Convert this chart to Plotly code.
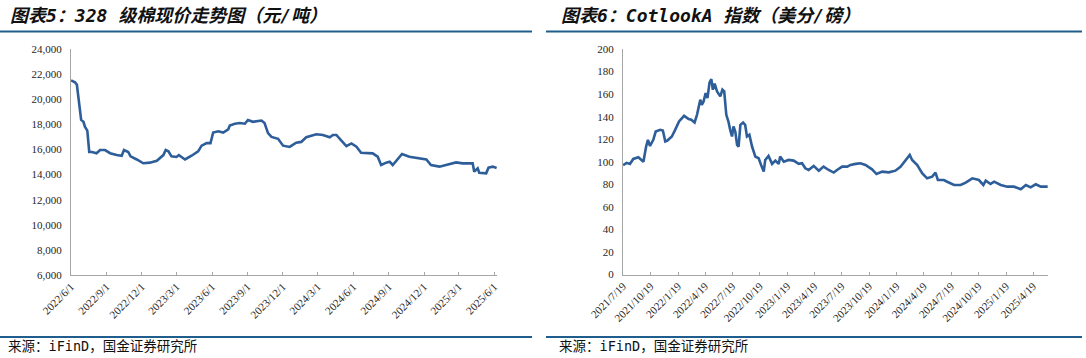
import plotly.graph_objects as go
import pandas as pd

# ---------------- data: 328 cotton spot price (yuan/ton) ----------------
cotton_dates = [
    "2022-06-01", "2022-06-11", "2022-06-16", "2022-06-22", "2022-06-27", "2022-07-03",
    "2022-07-07", "2022-07-13", "2022-07-18", "2022-07-25", "2022-08-06", "2022-08-15",
    "2022-08-28", "2022-09-10", "2022-09-27", "2022-10-10", "2022-10-16", "2022-10-27",
    "2022-11-02", "2022-11-18", "2022-12-05", "2022-12-22", "2023-01-09", "2023-01-26",
    "2023-02-01", "2023-02-08", "2023-02-16", "2023-03-01", "2023-03-07", "2023-03-14",
    "2023-03-23", "2023-04-09", "2023-04-26", "2023-05-05", "2023-05-18", "2023-05-28",
    "2023-06-04", "2023-06-17", "2023-06-30", "2023-07-13", "2023-07-17", "2023-07-30",
    "2023-08-12", "2023-08-25", "2023-09-02", "2023-09-15", "2023-10-07", "2023-10-15",
    "2023-10-24", "2023-11-02", "2023-11-19", "2023-12-02", "2023-12-19", "2024-01-05",
    "2024-01-18", "2024-01-31", "2024-02-26", "2024-03-14", "2024-04-01", "2024-04-09",
    "2024-04-18", "2024-05-01", "2024-05-14", "2024-05-27", "2024-06-09", "2024-06-21",
    "2024-07-21", "2024-08-03", "2024-08-12", "2024-08-25", "2024-09-03", "2024-09-11",
    "2024-09-24", "2024-10-05", "2024-10-24", "2024-11-19", "2024-12-07", "2024-12-19",
    "2025-01-10", "2025-01-27", "2025-02-22", "2025-03-11", "2025-04-06", "2025-04-10",
    "2025-04-19", "2025-04-23", "2025-05-11", "2025-05-17", "2025-05-28", "2025-06-07",
]
cotton_price = [
    21500, 21350, 21150, 19800, 18350, 18200,
    17800, 17500, 15800, 15800, 15700, 15950,
    15950, 15700, 15550, 15500, 15950, 15800,
    15450, 15200, 14900, 14950, 15100, 15550,
    15950, 15850, 15450, 15400, 15550, 15400,
    15200, 15500, 15850, 16300, 16500, 16500,
    17350, 17450, 17350, 17600, 17900, 18050,
    18100, 18050, 18350, 18200, 18300, 18100,
    17300, 17000, 16850, 16300, 16200, 16540,
    16600, 16970, 17210, 17150, 16970, 17150,
    17150, 16700, 16270, 16480, 16220, 15740,
    15690, 15420, 14760, 14950, 15020, 14760,
    15200, 15640, 15420, 15290, 15200, 14760,
    14630, 14760, 14970, 14890, 14890, 14230,
    14500, 14150, 14100, 14550, 14630, 14520,
]
cotton_ticks = ["2022/6/1", "2022/9/1", "2022/12/1", "2023/3/1", "2023/6/1", "2023/9/1",
                "2023/12/1", "2024/3/1", "2024/6/1", "2024/9/1", "2024/12/1", "2025/3/1",
                "2025/6/1"]
cotton_yticks = [6000, 8000, 10000, 12000, 14000, 16000, 18000, 20000, 22000, 24000]

# ---------------- data: Cotlook A index (US cents / lb) ----------------
cotlook_dates = [
    "2021-07-19", "2021-07-31", "2021-08-11", "2021-08-22", "2021-09-08", "2021-09-20",
    "2021-09-25", "2021-10-04", "2021-10-10", "2021-10-17", "2021-10-28", "2021-11-05",
    "2021-11-20", "2021-11-29", "2021-12-07", "2021-12-14", "2021-12-29", "2022-01-09",
    "2022-01-22", "2022-02-08", "2022-02-23", "2022-03-04", "2022-03-15", "2022-03-23",
    "2022-04-03", "2022-04-08", "2022-04-14", "2022-04-21", "2022-04-27", "2022-05-04",
    "2022-05-10", "2022-05-15", "2022-05-21", "2022-05-29", "2022-06-09", "2022-06-16",
    "2022-06-22", "2022-06-29", "2022-07-06", "2022-07-12", "2022-07-18", "2022-07-23",
    "2022-07-29", "2022-08-04", "2022-08-09", "2022-08-15", "2022-08-24", "2022-08-31",
    "2022-09-06", "2022-09-14", "2022-09-23", "2022-10-04", "2022-10-15", "2022-10-23",
    "2022-11-01", "2022-11-06", "2022-11-17", "2022-11-29", "2022-12-10", "2022-12-21",
    "2022-12-26", "2023-01-07", "2023-01-23", "2023-02-09", "2023-02-26", "2023-03-09",
    "2023-03-20", "2023-03-31", "2023-04-17", "2023-05-04", "2023-05-20", "2023-06-06",
    "2023-06-23", "2023-07-04", "2023-07-21", "2023-08-07", "2023-08-18", "2023-09-04",
    "2023-09-20", "2023-10-07", "2023-10-29", "2023-11-13", "2023-12-02", "2023-12-24",
    "2024-01-15", "2024-02-01", "2024-02-18", "2024-03-03", "2024-03-11", "2024-03-28",
    "2024-04-14", "2024-04-30", "2024-05-17", "2024-05-28", "2024-06-05", "2024-06-25",
    "2024-07-06", "2024-07-29", "2024-08-20", "2024-09-06", "2024-09-28", "2024-10-20",
    "2024-11-04", "2024-11-12", "2024-11-28", "2024-12-10", "2025-01-01", "2025-01-23",
    "2025-02-14", "2025-03-09", "2025-03-26", "2025-04-11", "2025-04-28", "2025-05-15",
    "2025-06-07",
]
cotlook_index = [
    97, 99, 98, 102.5, 104, 101.6,
    100, 113.5, 119.4, 114, 119.4, 126.8,
    128.3, 127.7, 118, 118.8, 122.4, 128.3,
    135.7, 140.7, 137.8, 137.2, 134.8, 141.6,
    155, 150.5, 153.5, 161, 156.4, 170.4,
    173.3, 163.9, 169.2, 162.4, 158, 163.9,
    162.4, 141.6, 135.7, 128.3, 122.4, 131.3,
    126.8, 115, 113.5, 132.7, 134.8, 132.7,
    122.4, 123.9, 113.5, 104.6, 103.1, 97.2,
    91.3, 101.6, 105.2, 98.1, 101, 98.1,
    104.6, 100.1, 101.6, 101, 98.1, 98.7,
    94.2, 92.7, 96.3, 92.1, 95.7, 92.7,
    90.4, 92.7, 95.7, 95.7, 97.2, 98.1,
    98.7, 97.1, 93.3, 89.1, 91.2, 90.6,
    92.1, 95.6, 101.6, 106, 101.6, 97.1,
    89.7, 85.3, 86.8, 90.3, 83.8, 83.8,
    82.3, 79.4, 79.4, 81.5, 85.3, 83.8,
    79.4, 83.2, 80.3, 82.3, 79.4, 77.9,
    77.9, 75.6, 79.4, 77.3, 80, 77.9,
    77.9,
]
cotlook_ticks = ["2021/7/19", "2021/10/19", "2022/1/19", "2022/4/19", "2022/7/19",
                 "2022/10/19", "2023/1/19", "2023/4/19", "2023/7/19", "2023/10/19",
                 "2024/1/19", "2024/4/19", "2024/7/19", "2024/10/19", "2025/1/19",
                 "2025/4/19"]
cotlook_yticks = list(range(0, 201, 20))

title_left = "图表5：328 级棉现价走势图（元/吨）"
title_right = "图表6：CotlookA 指数（美分/磅）"
source_text = "来源：iFinD，国金证券研究所"

# ---------------- figure ----------------
W, H = 1086, 358
LINE = "#2E5E99"
AXIS = "#A6A6A6"
TICKFONT = dict(family="Liberation Serif, Times New Roman, serif", size=11, color="#262626")
TITLEFONT = dict(family="DejaVu Sans Mono, Noto Sans CJK SC", size=18, color="#111111",
                 weight="bold", style="italic")
SRCFONT = dict(family="DejaVu Sans Mono, Noto Sans CJK SC", size=13.5, color="#111111")


def px_x(p):
    return p / W


def px_y(p):
    return 1 - p / H


def to_iso(lbl):
    return pd.to_datetime(lbl, format="%Y/%m/%d").strftime("%Y-%m-%d")


fig = go.Figure()
fig.add_trace(go.Scatter(x=cotton_dates, y=cotton_price, mode="lines",
                         line=dict(color=LINE, width=2.6), xaxis="x", yaxis="y",
                         showlegend=False))
fig.add_trace(go.Scatter(x=cotlook_dates, y=cotlook_index, mode="lines",
                         line=dict(color=LINE, width=2.6), xaxis="x2", yaxis="y2",
                         showlegend=False))

xcommon = dict(type="date", showgrid=False, zeroline=False, showline=True,
               linecolor=AXIS, linewidth=1, ticks="inside", ticklen=3,
               tickcolor=AXIS, tickangle=-45, tickfont=TICKFONT, tickmode="array",
               automargin=False)
ycommon = dict(showgrid=False, zeroline=False, showline=True, linecolor=AXIS,
               linewidth=1, ticks="", tickfont=TICKFONT, tickmode="array",
               ticklabelstandoff=6, automargin=False)

fig.update_layout(
    width=W, height=H, margin=dict(l=0, r=0, t=0, b=0, autoexpand=False),
    paper_bgcolor="white", plot_bgcolor="white",
    xaxis=dict(xcommon, domain=[px_x(71), px_x(497)], anchor="y",
               range=["2022-05-31 18:00", "2025-06-08"],
               tickvals=[to_iso(t) for t in cotton_ticks], ticktext=cotton_ticks),
    yaxis=dict(ycommon, domain=[px_y(275), px_y(49)], anchor="x",
               range=[6000, 24000], tickvals=cotton_yticks,
               ticktext=[f"{v:,}" for v in cotton_yticks]),
    xaxis2=dict(xcommon, domain=[px_x(623), px_x(1048)], anchor="y2",
                range=["2021-07-18 18:00", "2025-06-08"],
                tickvals=[to_iso(t) for t in cotlook_ticks], ticktext=cotlook_ticks),
    yaxis2=dict(ycommon, domain=[px_y(274.5), px_y(49)], anchor="x2",
                range=[0, 200], tickvals=cotlook_yticks,
                ticktext=[str(v) for v in cotlook_yticks]),
)

# header / footer rules
for x0, x1 in [(0, 532), (546, 1082)]:
    fig.add_shape(type="line", xref="paper", yref="paper",
                  x0=px_x(x0), x1=px_x(x1), y0=px_y(31.5), y1=px_y(31.5),
                  line=dict(color="#1F5E8C", width=2))
    fig.add_shape(type="line", xref="paper", yref="paper",
                  x0=px_x(x0), x1=px_x(x1), y0=px_y(337), y1=px_y(337),
                  line=dict(color="#1F5E8C", width=2))

fig.add_annotation(text=title_left, xref="paper", yref="paper", x=px_x(8), y=px_y(16),
                   xanchor="left", yanchor="middle", showarrow=False, font=TITLEFONT)
fig.add_annotation(text=title_right, xref="paper", yref="paper", x=px_x(559), y=px_y(16),
                   xanchor="left", yanchor="middle", showarrow=False, font=TITLEFONT)
fig.add_annotation(text=source_text, xref="paper", yref="paper", x=px_x(6), y=px_y(346),
                   xanchor="left", yanchor="middle", showarrow=False, font=SRCFONT)
fig.add_annotation(text=source_text, xref="paper", yref="paper", x=px_x(557), y=px_y(346),
                   xanchor="left", yanchor="middle", showarrow=False, font=SRCFONT)

fig.write_html("out.html",
               config={"displayModeBar": False},
               post_script="document.body.style.margin='0';"
                           "document.body.style.overflow='hidden';")
